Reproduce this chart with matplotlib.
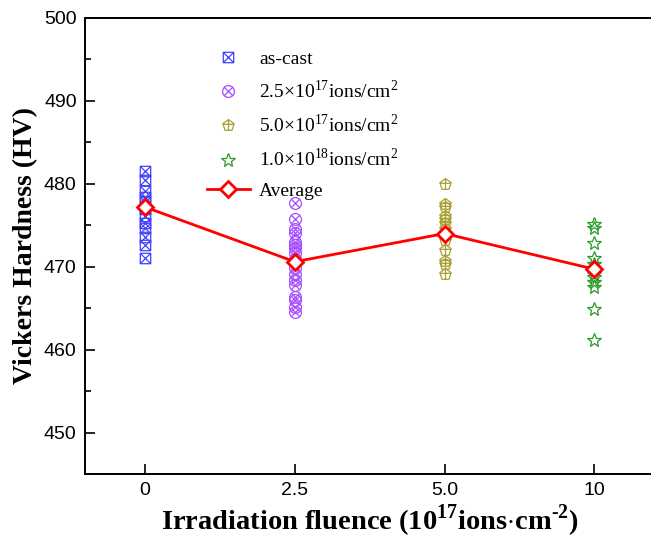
import numpy as np
import matplotlib.pyplot as plt
from matplotlib.path import Path
from matplotlib.transforms import Affine2D

plt.rcParams['font.family'] = 'Liberation Serif'
plt.rcParams['mathtext.fontset'] = 'custom'
plt.rcParams['mathtext.rm'] = 'Liberation Serif'
plt.rcParams['mathtext.bf'] = 'Liberation Serif:bold'

# category labels on the x axis
fluence_labels = ['0', '2.5', '5.0', '10']

as_cast = [481.5, 480.4, 479.1, 478.4, 477.8, 477.0, 476.1, 475.3, 474.7, 473.6, 472.6, 471.1]
f25 = [477.7, 475.8, 474.5, 474.1, 473.0, 472.6, 472.2, 471.6, 470.9, 469.9, 469.1,
       468.4, 467.8, 466.4, 466.0, 465.1, 464.5]
f50 = [480.0, 477.6, 477.2, 476.1, 475.7, 475.3, 474.5, 473.2, 472.0, 470.7, 470.3, 469.1]
f100 = [475.1, 474.7, 472.8, 471.1, 470.3, 469.1, 468.7, 468.2, 467.6, 464.9, 461.2]
average = [477.2, 470.6, 474.0, 469.7]

series_names = ['as-cast',
                r'2.5$\times$10$^{17}$ions/cm$^{2}$',
                r'5.0$\times$10$^{17}$ions/cm$^{2}$',
                r'1.0$\times$10$^{18}$ions/cm$^{2}$']
colors = ['#4040ff', '#a64dff', '#a8a030', '#2a9a2a']


def cross(pts):
    return Path(pts, [Path.MOVETO, Path.LINETO, Path.MOVETO, Path.LINETO])


# hollow markers with inner lines, like the originals
sq_x = Path.make_compound_path(
    Path.unit_rectangle().transformed(Affine2D().translate(-0.5, -0.5).scale(2)),
    cross([(-1, -1), (1, 1), (-1, 1), (1, -1)]))
circ_x = Path.make_compound_path(
    Path.unit_circle(), cross([(-0.7, -0.7), (0.7, 0.7), (-0.7, 0.7), (0.7, -0.7)]))
ang = np.pi / 2 + np.arange(6) * 2 * np.pi / 5
pent_plus = Path.make_compound_path(
    Path(np.c_[np.cos(ang), np.sin(ang)], closed=True),
    cross([(0, 1), (0, -0.8), (-0.95, 0.2), (0.95, 0.2)]))
markers = [sq_x, circ_x, pent_plus, '*']
sizes = [7.5, 8.5, 8.5, 10]

fig = plt.figure(figsize=(6.51, 5.45), dpi=100)
ax = fig.add_axes([0.1306, 0.1303, 0.90, 0.8367])

groups = [as_cast, f25, f50, f100]
for i, vals in enumerate(groups):
    ax.plot([i] * len(vals), vals, linestyle='none', marker=markers[i],
            markersize=sizes[i], markerfacecolor='none', markeredgecolor=colors[i],
            markeredgewidth=0.9, label=series_names[i])

ax.plot(range(len(average)), average, color='#ff0000', linewidth=2,
        marker='D', markersize=8.5, markerfacecolor='white',
        markeredgecolor='#ff0000', markeredgewidth=2, label='Average')

ax.set_xlim(-0.4, 3.51)
ax.set_ylim(445, 500)
ax.set_xticks(range(4))
ax.set_xticklabels(fluence_labels)
ax.set_yticks(np.arange(450, 501, 10))
ax.set_yticks(np.arange(455, 500, 10), minor=True)
ax.tick_params(direction='in', length=7, width=1.2, labelsize=14, pad=6,
               top=False, right=False)
ax.tick_params(which='minor', direction='in', length=4, width=1.2)
for lab in ax.get_xticklabels() + ax.get_yticklabels():
    lab.set_fontfamily('Liberation Sans')
for s in ax.spines.values():
    s.set_linewidth(1.4)

ax.set_ylabel('Vickers Hardness (HV)', fontsize=20, fontweight='bold', labelpad=4)
ax.set_xlabel(r'Irradiation fluence (10$^{\mathbf{17}}$ions$\cdot$cm$^{\mathbf{\text{-}2}}$)',
              fontsize=20.5, fontweight='bold')
ax.xaxis.set_label_coords(0.4855, -0.062)

ax.legend(loc='upper left', bbox_to_anchor=(0.178, 0.968), frameon=False,
          fontsize=14, handlelength=2.2, labelspacing=0.6, handletextpad=0.5)

fig.savefig('out.png', dpi=100)
